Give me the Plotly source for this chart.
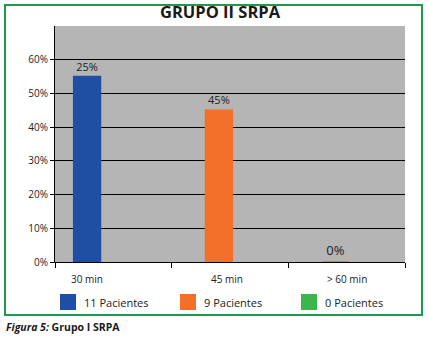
import plotly.graph_objects as go

categories = ["30 min", "45 min", "> 60 min"]
values = [0.55, 0.45, 0.0]
bar_labels = ["25%", "45%", "0%"]
legend_labels = ["11 Pacientes", "9 Pacientes", "0 Pacientes"]
colors = ["#1f4fa3", "#f2702a", "#3db54a"]
y_ticks = [0, 0.1, 0.2, 0.3, 0.4, 0.5, 0.6]
y_tick_text = ["0%", "10%", "20%", "30%", "40%", "50%", "60%"]
title_text = "GRUPO II SRPA"
caption_italic = "Figura 5:"
caption_text = " Grupo I SRPA"

offsets = [-0.34, -0.21, -0.21]
label_shift = [-26, -3, 0]
text_sizes = [11, 11, 13]

fig = go.Figure()
for i, cat in enumerate(categories):
    fig.add_trace(go.Bar(
        x=[cat], y=[values[i]], name=legend_labels[i],
        width=0.23, offset=offsets[i],
        marker=dict(color=colors[i], line=dict(color=colors[i], width=1.5)),
        text=[bar_labels[i]], textposition="outside", cliponaxis=False,
        textfont=dict(family="Open Sans", size=text_sizes[i], color="#222222"),
        showlegend=False,
    ))

fig.update_layout(
    width=428, height=338,
    margin=dict(l=55, r=23, t=26, b=76),
    paper_bgcolor="white", plot_bgcolor="#b5b5b5",
    barmode="overlay",
    font=dict(family="Open Sans", color="#222222"),
    xaxis=dict(
        type="category", range=[-0.5, 2.5], tickson="boundaries",
        ticks="outside", ticklen=5, tickcolor="black",
        showline=True, linecolor="black", linewidth=1,
        showgrid=False, showticklabels=False, fixedrange=True,
    ),
    yaxis=dict(
        range=[0, 0.7], tickvals=y_ticks, ticktext=y_tick_text,
        ticks="outside", ticklen=4, tickcolor="black",
        showline=True, linecolor="black", linewidth=1,
        gridcolor="black", gridwidth=1, zeroline=False,
        tickfont=dict(family="Open Sans", size=10, color="#222222"),
        fixedrange=True,
    ),
)

# title
fig.add_annotation(text=f"<b>{title_text}</b>", xref="paper", yref="paper",
                   x=0.474, y=1, yanchor="bottom", xanchor="center", showarrow=False,
                   font=dict(family="Open Sans", size=16.5, color="#1a1a1a"), yshift=1)

# x category labels
for i, cat in enumerate(categories):
    fig.add_annotation(text=cat, x=cat, xref="x", yref="paper", y=0, yanchor="top",
                       yshift=-8, xshift=label_shift[i], showarrow=False,
                       font=dict(family="Open Sans", size=10, color="#222222"))

# legend
leg_x = [60, 180, 301]
for i, lab in enumerate(legend_labels):
    fig.add_shape(type="rect", xref="paper", yref="paper",
                  x0=(leg_x[i] - 55) / 350, x1=(leg_x[i] + 16 - 55) / 350,
                  y0=(338 - 76 - 310) / 236, y1=(338 - 76 - 294) / 236,
                  fillcolor=colors[i], line=dict(width=0))
    fig.add_annotation(text=lab, xref="paper", yref="paper",
                       x=(leg_x[i] + 22 - 55) / 350, y=(338 - 76 - 302) / 236,
                       xanchor="left", yanchor="middle", showarrow=False,
                       font=dict(family="Open Sans", size=11, color="#222222"))

# green frame
fig.add_shape(type="rect", xref="paper", yref="paper",
              x0=(5 - 55) / 350, x1=(422 - 55) / 350,
              y0=(338 - 76 - 315) / 236, y1=(338 - 76 - 5) / 236,
              line=dict(color="#1f9a4c", width=2), fillcolor="rgba(0,0,0,0)", layer="above")

# caption
fig.add_annotation(text=f"<b><i>{caption_italic}</i>{caption_text}</b>", xref="paper", yref="paper",
                   x=(4 - 55) / 350, y=(338 - 76 - 327) / 236, xanchor="left", yanchor="middle",
                   showarrow=False, font=dict(family="Open Sans", size=10.5, color="#1a1a1a"))

fig.write_html("out.html", config={"displayModeBar": False},
               post_script="document.body.style.margin='0';document.body.style.overflow='hidden';")
